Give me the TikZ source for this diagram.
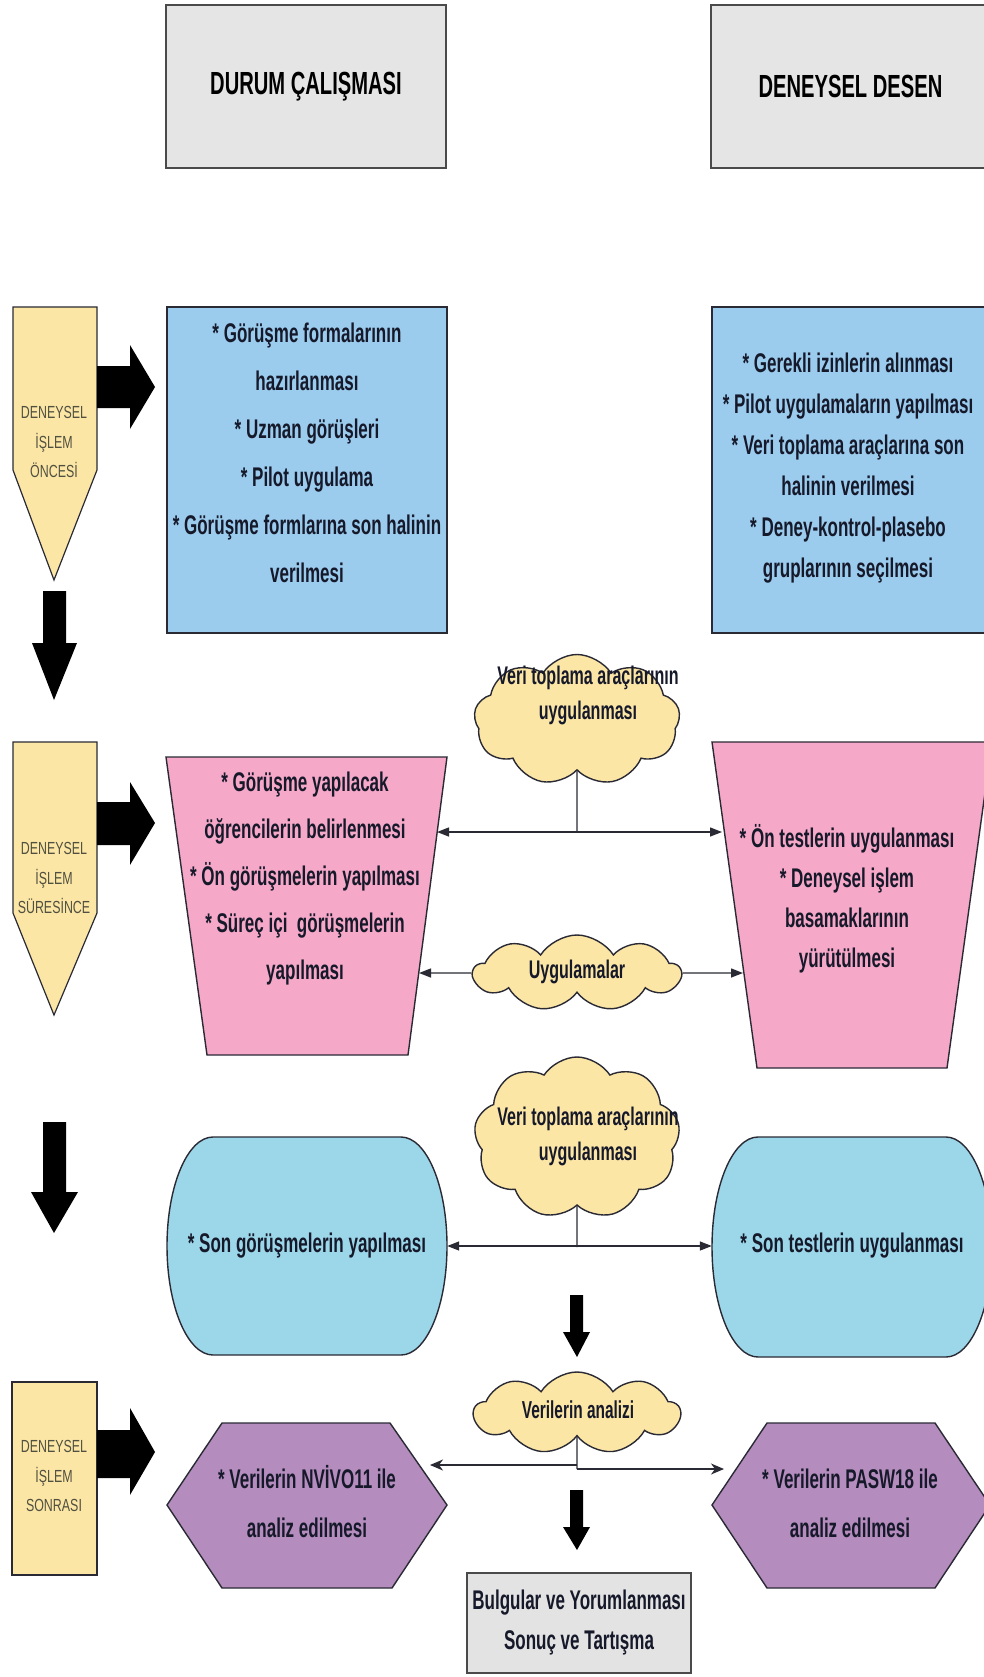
\documentclass[tikz,border=0pt]{standalone}
\usepackage{fontspec}
\setmainfont{Liberation Sans}[FakeStretch=0.63]
\newfontfamily\labfont{Liberation Sans}[FakeStretch=0.71]
\usetikzlibrary{shapes.symbols,arrows.meta}

\definecolor{hdrfill}{HTML}{E5E5E5}
\definecolor{hdrline}{HTML}{4A4A4A}
\definecolor{yel}{HTML}{FCE6A6}
\definecolor{blu}{HTML}{9BCCEE}
\definecolor{pnk}{HTML}{F6A8C8}
\definecolor{cyn}{HTML}{9CD6E9}
\definecolor{prp}{HTML}{B48CBD}
\definecolor{gry}{HTML}{E3E3E3}
\definecolor{ink}{HTML}{16192A}
\definecolor{lab}{HTML}{505040}
\definecolor{edge}{HTML}{2A2A35}

\newcommand\bodyfont[1]{\fontsize{27}{#1}\selectfont\bfseries}

\begin{document}
\begin{tikzpicture}[x=1pt,y=-1pt,
  outline/.style={draw=edge, line width=1.4pt},
  hdr/.style={draw=hdrline, line width=2pt, fill=hdrfill, text=black,
              font=\fontsize{32}{38}\selectfont\bfseries, inner sep=0pt},
  body/.style={text=ink, align=center, inner sep=0pt},
  lbl/.style={font=\labfont\fontsize{17.5}{29.5}\selectfont, text=lab, align=center, inner sep=0pt},
  cloudy/.style={cloud, cloud puffs=9, cloud puff arc=115, cloud ignores aspect,
                 draw=edge, line width=1.4pt, fill=yel, inner sep=0pt},
  blk/.style={fill=black},
  conn/.style={draw=edge, line width=1.4pt},
  arr/.style={conn, -{Triangle[length=12pt,width=9pt]}},
  darr/.style={conn, {Triangle[length=12pt,width=9pt]}-{Triangle[length=12pt,width=9pt]}},
  harr/.style={conn, -{Stealth[length=13pt,width=11pt,inset=4pt]}}]

\useasboundingbox (0,0) rectangle (984,1677);
\clip (0,0) rectangle (984,1677);
\fill[white] (0,0) rectangle (984,1677);

% ---- column headers
\node[hdr, minimum width=280, minimum height=163] (hdrL) at (306,86.5) {DURUM ÇALIŞMASI};
\node[hdr, minimum width=279, minimum height=163] (hdrR) at (850.5,86.5) {DENEYSEL DESEN};

% ---- phase markers on the left
\draw[outline, line width=1.2pt, fill=yel] (13,307) -- (97,307) -- (97,470) -- (54,580) -- (13,470) -- cycle;
\node[lbl] (lab1) at (54,442) {DENEYSEL\\İŞLEM\\ÖNCESİ};
\draw[outline, line width=1.2pt, fill=yel] (13,742) -- (97,742) -- (97,913) -- (54,1015) -- (13,913) -- cycle;
\node[lbl] (lab2) at (54,878) {DENEYSEL\\İŞLEM\\SÜRESİNCE};
\draw[outline, line width=1.2pt, fill=yel] (12,1382) rectangle (97,1575);
\node[lbl] (lab3) at (54,1476) {DENEYSEL\\İŞLEM\\SONRASI};

% ---- thick block arrows
\fill[blk] (97,366) -- (130,366) -- (130,345) -- (155,387) -- (130,429) -- (130,408) -- (97,408) -- cycle;
\fill[blk] (97,802) -- (130,802) -- (130,782) -- (155,823) -- (130,865) -- (130,845) -- (97,845) -- cycle;
\fill[blk] (97,1430) -- (130,1430) -- (130,1408) -- (155,1452) -- (130,1495) -- (130,1478) -- (97,1478) -- cycle;
\fill[blk] (43,591) -- (66,591) -- (66,643) -- (77,643) -- (54,700) -- (32,643) -- (43,643) -- cycle;
\fill[blk] (43,1122) -- (66,1122) -- (66,1192) -- (78,1192) -- (54,1233) -- (31,1192) -- (43,1192) -- cycle;
\fill[blk] (570,1295) -- (583,1295) -- (583,1332) -- (590,1332) -- (577,1357) -- (563,1332) -- (570,1332) -- cycle;
\fill[blk] (570,1490) -- (583,1490) -- (583,1527) -- (590,1527) -- (577,1550) -- (563,1527) -- (570,1527) -- cycle;

% ---- preparation boxes
\node[outline, fill=blu, minimum width=280, minimum height=326, inner sep=0pt] (prepL) at (307,470) {};
\node[body, font=\bodyfont{48}] (prepLt) at (307,453)
  {* Görüşme formalarının\\hazırlanması\\* Uzman görüşleri\\* Pilot uygulama\\* Görüşme formlarına son halinin\\verilmesi};
\node[outline, fill=blu, minimum width=280, minimum height=326, inner sep=0pt] (prepR) at (852,470) {};
\node[body, font=\bodyfont{41}] (prepRt) at (848,468)
  {* Gerekli izinlerin alınması\\* Pilot uygulamaların yapılması\\* Veri toplama araçlarına son\\halinin verilmesi\\* Deney-kontrol-plasebo\\gruplarının seçilmesi};

% ---- process trapezoids
\draw[outline, fill=pnk] (166,757) -- (447,757) -- (408,1055) -- (207,1055) -- cycle;
\node[body, font=\bodyfont{47}] (procLt) at (305,879)
  {* Görüşme yapılacak\\öğrencilerin belirlenmesi\\* Ön görüşmelerin yapılması\\* Süreç içi\ \ görüşmelerin\\yapılması};
\draw[outline, fill=pnk] (712,742) -- (992,742) -- (947,1068) -- (757,1068) -- cycle;
\node[body, font=\bodyfont{40}] (procRt) at (847,899)
  {* Ön testlerin uygulanması\\* Deneysel işlem\\basamaklarının\\yürütülmesi};

\coordinate (inL1) at (437,832);
\coordinate (inR1) at (722,832);
\coordinate (inL2) at (419,973);
\coordinate (inR2) at (743,973);

% ---- clouds
\node[cloudy, minimum width=206, minimum height=131] (cl1) at (577,720) {};
\node[body, font=\fontsize{25.5}{35}\selectfont\bfseries] (cl1t) at (588,695) {Veri toplama araçlarının\\uygulanması};
\node[cloudy, minimum width=207, minimum height=76] (cl2) at (577,973) {};
\node[body, font=\fontsize{25.5}{35}\selectfont\bfseries] (cl2t) at (577,972) {Uygulamalar};
\node[cloudy, minimum width=206, minimum height=162] (cl3) at (577,1138) {};
\node[body, font=\fontsize{25.5}{35}\selectfont\bfseries] (cl3t) at (588,1136) {Veri toplama araçlarının\\uygulanması};
\node[cloudy, minimum width=206, minimum height=82] (cl4) at (577,1413) {};
\node[body, font=\fontsize{24.5}{35}\selectfont\bfseries] (cl4t) at (578,1410) {Verilerin analizi};

% ---- connectors of the process row
\coordinate (j1) at (577,832);
\draw[conn] (cl1.south) -- (j1);
\draw[darr] (inL1) -- (inR1);
\draw[arr] (cl2.west) -- (inL2);
\draw[arr] (cl2.east) -- (inR2);

% ---- final data collection shapes
\draw[outline, fill=cyn] (213,1137) -- (401,1137)
  arc[start angle=-90, end angle=90, x radius=46, y radius=109] -- (213,1355)
  arc[start angle=90, end angle=270, x radius=46, y radius=109] -- cycle;
\node[body, font=\bodyfont{40}, minimum width=280, minimum height=218] (postL) at (307,1246) {* Son görüşmelerin yapılması};
\draw[outline, fill=cyn] (758,1137) -- (946,1137)
  arc[start angle=-90, end angle=90, x radius=46, y radius=110] -- (758,1357)
  arc[start angle=90, end angle=270, x radius=46, y radius=110] -- cycle;
\node[body, font=\bodyfont{40}, minimum width=280, minimum height=218] (postR) at (852,1246) {* Son testlerin uygulanması};

\coordinate (j3) at (577,1247);
\draw[conn] (cl3.south) -- (j3);
\draw[darr] (postL.east) -- (postR.west);

% ---- analysis hexagons
\draw[outline, fill=prp] (167,1505) -- (222,1423) -- (390,1423) -- (447,1505) -- (392,1588) -- (222,1588) -- cycle;
\node[body, font=\bodyfont{49}] (anaL) at (307,1502) {* Verilerin NVİVO11 ile\\analiz edilmesi};
\draw[outline, fill=prp] (712,1505) -- (767,1423) -- (935,1423) -- (990,1505) -- (935,1588) -- (767,1588) -- cycle;
\node[body, font=\bodyfont{49}] (anaR) at (850,1503) {* Verilerin PASW18 ile\\analiz edilmesi};

\coordinate (j4) at (577,1469);
\coordinate (j4l) at (577,1465);
\coordinate (inL4) at (430,1465);
\coordinate (inR4) at (724,1469);
\draw[conn] (cl4.south) -- (j4);
\draw[harr] (j4) -- (inR4);
\draw[harr] (j4l) -- (inL4);

% ---- results box
\node[draw=hdrline, line width=1.6pt, fill=gry, minimum width=224, minimum height=100, inner sep=0pt] (res) at (579,1623) {};
\node[body, font=\bodyfont{40}] (rest) at (579,1622) {Bulgular ve Yorumlanması\\Sonuç ve Tartışma};

\end{tikzpicture}
\end{document}
